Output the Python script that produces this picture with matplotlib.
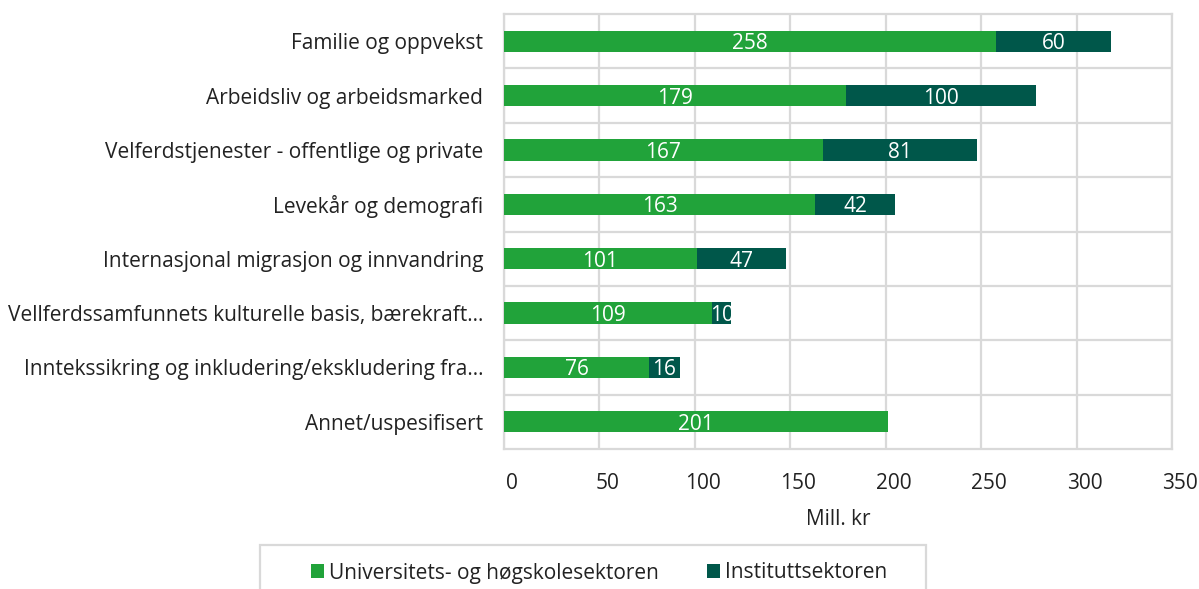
import numpy as np
import matplotlib.pyplot as plt
from matplotlib.patches import Rectangle
from matplotlib.transforms import ScaledTranslation

plt.rcParams['font.family'] = ['Open Sans', 'DejaVu Sans']

# Research funding by topic and sector (Mill. kr)
categories = [
    'Familie og oppvekst',
    'Arbeidsliv og arbeidsmarked',
    'Velferdstjenester - offentlige og private',
    'Levekår og demografi',
    'Internasjonal migrasjon og innvandring',
    'Vellferdssamfunnets kulturelle basis, bærekraft…',
    'Inntekssikring og inkludering/ekskludering fra…',
    'Annet/uspesifisert',
]
uh_sector = [258, 179, 167, 163, 101, 109, 76, 201]
institute_sector = [60, 100, 81, 42, 47, 10, 16, 0]
series_names = ['Universitets- og høgskolesektoren', 'Instituttsektoren']

green = '#21A33A'
dark_green = '#00574A'
grid_col = '#D9D9D9'
fs = 15

fig = plt.figure(figsize=(11.99, 5.89), dpi=100)
ax = fig.add_axes([504 / 1199, 1 - 449 / 589, 668 / 1199, 435 / 589])

y = np.arange(len(categories))
bh = 0.39
b1 = ax.barh(y, uh_sector, height=bh, color=green, label=series_names[0], zorder=3)
b2 = ax.barh(y, institute_sector, left=uh_sector, height=bh, color=dark_green,
             label=series_names[1], zorder=3)

# value labels centred in each segment, clipped to the segment
for bars in (b1, b2):
    for rect in bars:
        w = rect.get_width()
        if w <= 0:
            continue
        cx = rect.get_x() + w / 2
        cy = rect.get_y() + rect.get_height() / 2
        t = ax.text(cx, cy, f'{w:g}', ha='center', va='center_baseline', color='white',
                    fontsize=fs, zorder=4)
        t.set_clip_path(rect)

ax.set_xlim(0, 350)
ax.set_ylim(len(categories) - 0.5, -0.5)
ax.set_xticks(np.arange(0, 351, 50))
ax.set_yticks(y)
ax.set_yticklabels(categories, fontsize=fs, color='#222222')
ax.set_yticks(np.arange(0.5, len(categories) - 1, 1), minor=True)
ax.tick_params(axis='y', which='both', length=0, pad=15)
ax.tick_params(axis='x', length=0, pad=17, labelsize=fs, labelcolor='#222222')
for lab in ax.get_xticklabels():
    lab.set_transform(lab.get_transform() + ScaledTranslation(8 / 100, 0, fig.dpi_scale_trans))

ax.grid(axis='x', color=grid_col, linewidth=1.6, zorder=0)
ax.grid(axis='y', which='minor', color=grid_col, linewidth=1.6, zorder=0)
for s in ax.spines.values():
    s.set_color(grid_col)
    s.set_linewidth(1.6)

ax.set_xlabel('Mill. kr', fontsize=fs, color='#222222', labelpad=11)

# legend with its own frame box at the bottom
fig.legend(handles=[b1, b2], loc='center', bbox_to_anchor=(599 / 1199, 1 - 573 / 589),
           ncol=2, frameon=False, fontsize=fs, handlelength=0.62, handleheight=0.62,
           handletextpad=0.25, columnspacing=2.3, borderpad=0, labelcolor='#222222')
fig.patches.append(Rectangle((260 / 1199, -0.05), 666 / 1199, 0.05 + 44 / 589,
                             transform=fig.transFigure, fill=False,
                             edgecolor=grid_col, linewidth=1.6))

fig.savefig('out.png', dpi=100)
